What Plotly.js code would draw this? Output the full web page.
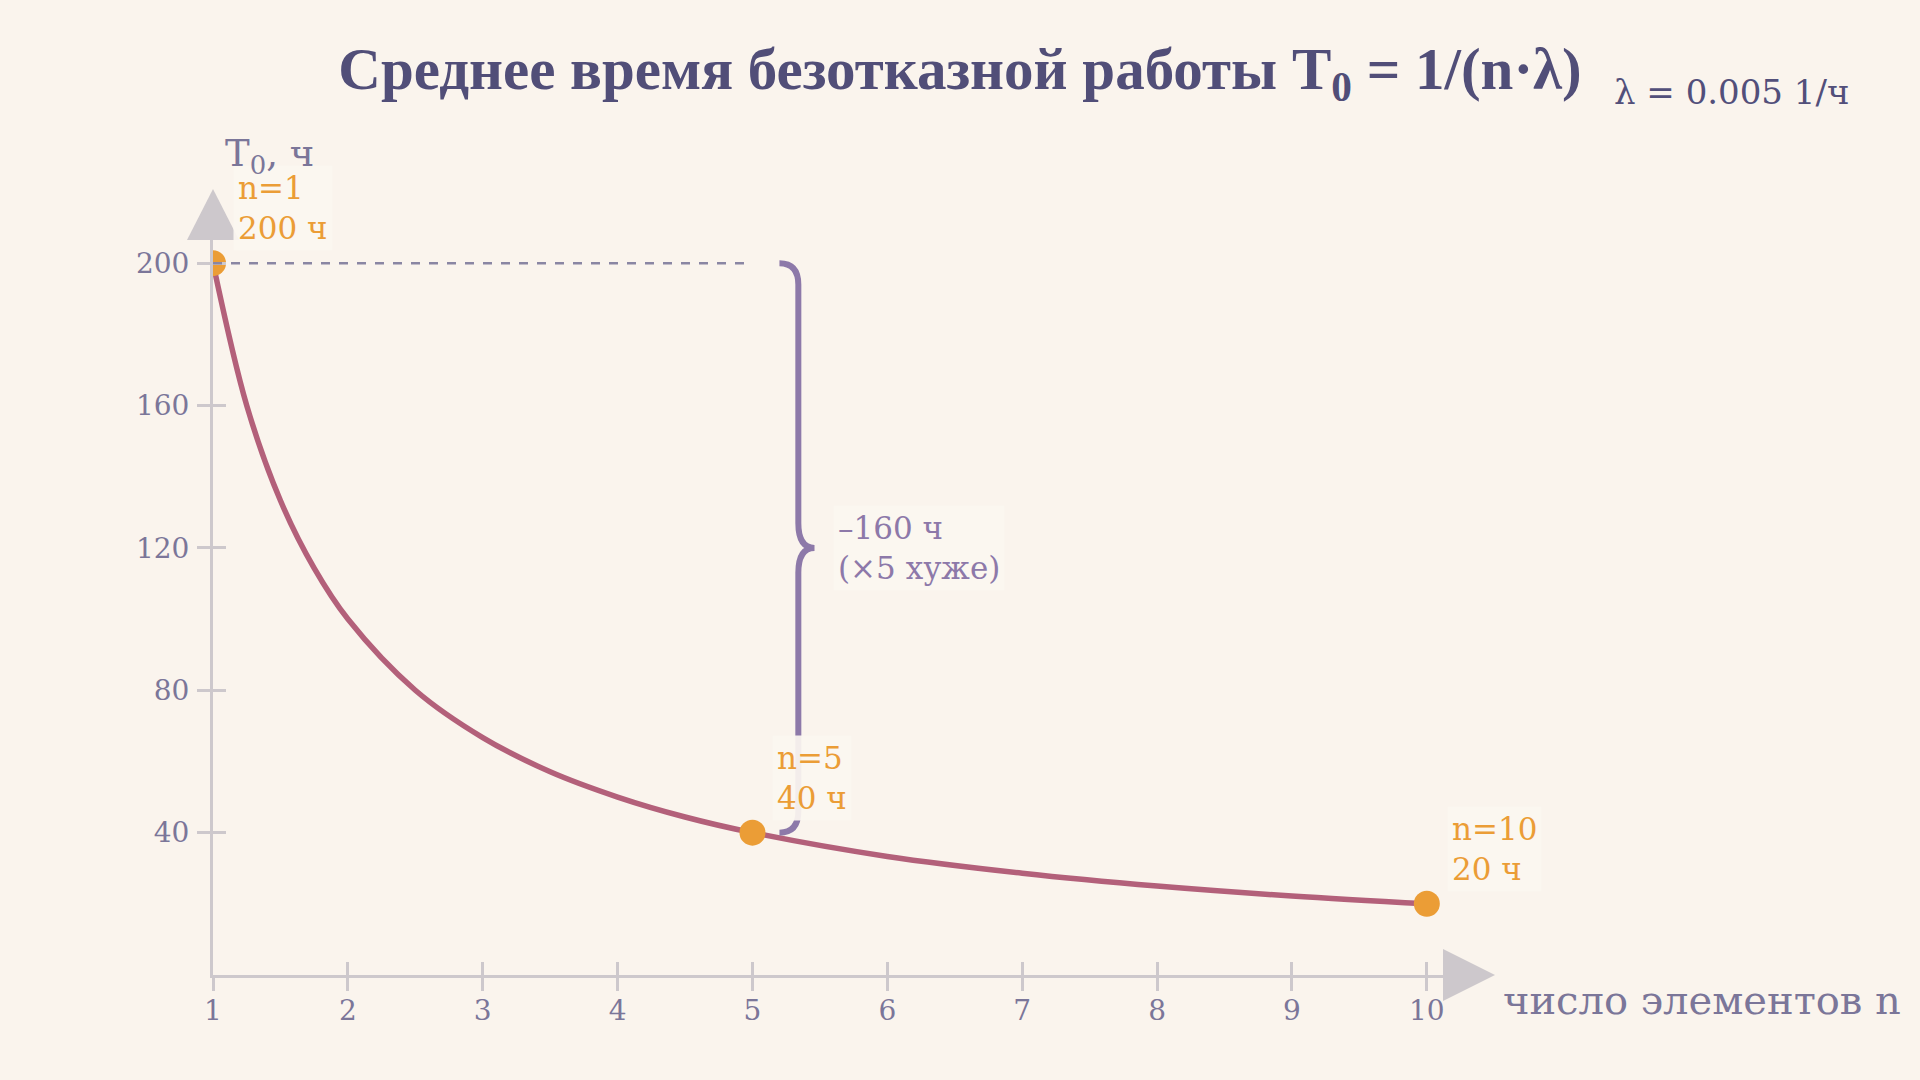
<!DOCTYPE html>
<html>
<head>
<meta charset="utf-8">
<script src="https://cdn.plot.ly/plotly-3.0.1.min.js"></script>
<style>
  html, body { margin: 0; padding: 0; background: #faf4ed; }
  #chart { width: 1920px; height: 1080px; }
</style>
</head>
<body>
<div id="chart"></div>
<script>
// Среднее время безотказной работы T0 = 1/(n·λ), λ = 0.005 1/ч
const nCurve = [1, 1.25, 1.5, 1.75, 2, 2.5, 3, 3.5, 4, 4.5, 5, 6, 7, 8, 9, 10];
const tCurve = [200, 160, 133.3, 114.3, 100, 80, 66.7, 57.1, 50, 44.4, 40, 33.3, 28.6, 25, 22.2, 20];

const nPoints = [1, 5, 10];
const tPoints = [200, 40, 20];
const pointLabels = ['n=1<br>200 ч', 'n=5<br>40 ч', 'n=10<br>20 ч'];

const xTicks = [1, 2, 3, 4, 5, 6, 7, 8, 9, 10];
const yTicks = [40, 80, 120, 160, 200];

const diffLabel = '–160 ч<br>(×5 хуже)';

const SERIF = '"DejaVu Serif", "Liberation Serif", serif';
const TEXT = '#7b7699';
const AXIS = '#cdc8cc';
const ORANGE = '#eb9d36';
const PURPLE = '#8d79a9';
const LABEL_BG = 'rgba(251,246,240,0.93)';

const xMax = 10.12, yMax = 206.5;

const traces = [
  {
    x: nCurve, y: tCurve,
    mode: 'lines',
    line: { color: '#b3607a', width: 5.5, shape: 'spline', smoothing: 1 },
    hoverinfo: 'skip'
  },
  {
    x: nPoints, y: tPoints,
    mode: 'markers',
    marker: { color: ORANGE, size: 26 },
    hoverinfo: 'skip'
  },
  // невидимые трассы для дополнительных осей (внутренние засечки)
  { x: nPoints, y: tPoints, xaxis: 'x2', yaxis: 'y', mode: 'markers',
    marker: { opacity: 0 }, hoverinfo: 'skip' },
  { x: nPoints, y: tPoints, xaxis: 'x', yaxis: 'y2', mode: 'markers',
    marker: { opacity: 0 }, hoverinfo: 'skip' }
];

// подписи точек: привязка к точке, сдвиг вправо-вверх в пикселях
const annotations = pointLabels.map((t, i) => ({
  x: nPoints[i], y: tPoints[i], xref: 'x', yref: 'y',
  text: t, showarrow: false, align: 'left',
  xanchor: 'left', yanchor: 'middle', xshift: 20, yshift: 55,
  font: { family: SERIF, size: 31, color: ORANGE },
  bgcolor: LABEL_BG, borderpad: 4
}));

annotations.push(
  {
    x: 5.6, y: 120, xref: 'x', yref: 'y',
    text: diffLabel, showarrow: false, align: 'left',
    xanchor: 'left', yanchor: 'middle',
    font: { family: SERIF, size: 31, color: PURPLE },
    bgcolor: LABEL_BG, borderpad: 4
  },
  {
    x: 0, y: 1, xref: 'paper', yref: 'paper',
    text: 'T<sub>0</sub>, ч', showarrow: false,
    xanchor: 'left', yanchor: 'bottom', xshift: 10, yshift: 58,
    font: { family: SERIF, size: 37, color: TEXT }
  },
  {
    x: 1, y: 0, xref: 'paper', yref: 'paper',
    text: 'число элементов n', showarrow: false,
    xanchor: 'left', yanchor: 'middle', xshift: 58, yshift: -25,
    font: { family: SERIF, size: 40, color: TEXT }
  },
  {
    x: (1612 - 213) / 1230, y: (975 - 92) / 735, xref: 'paper', yref: 'paper',
    text: 'λ = 0.005 1/ч', showarrow: false,
    xanchor: 'left', yanchor: 'middle',
    font: { family: SERIF, size: 34, color: '#524f7a' }
  }
);

const shapes = [
  // пунктир от n=1 до n=5 на уровне 200 ч
  {
    type: 'line', xref: 'x', yref: 'y', layer: 'above',
    x0: nPoints[0], x1: nPoints[1], y0: tPoints[0], y1: tPoints[0],
    line: { color: '#8a86a3', width: 2.5, dash: 'dash' }
  },
  // фигурная скобка между 200 и 40
  {
    type: 'path', xref: 'x', yref: 'y', layer: 'above',
    path: 'M 5.20,200 Q 5.34,200 5.34,194 L 5.34,127 Q 5.34,120 5.46,120 ' +
          'Q 5.34,120 5.34,113 L 5.34,46 Q 5.34,40 5.20,40',
    line: { color: PURPLE, width: 6 }
  },
  // стрелки осей
  {
    type: 'path', xref: 'paper', yref: 'paper', xsizemode: 'pixel', ysizemode: 'pixel',
    xanchor: 0, yanchor: 1, layer: 'below',
    path: 'M -26,0 L 26,0 L 0,51 Z',
    fillcolor: AXIS, line: { width: 0 }
  },
  {
    type: 'path', xref: 'paper', yref: 'paper', xsizemode: 'pixel', ysizemode: 'pixel',
    xanchor: 1, yanchor: 0, layer: 'below',
    path: 'M 0,-26 L 52,0 L 0,26 Z',
    fillcolor: AXIS, line: { width: 0 }
  }
];

const layout = {
  width: 1920, height: 1080,
  paper_bgcolor: '#faf4ed',
  plot_bgcolor: 'rgba(0,0,0,0)',
  margin: { l: 213, r: 477, t: 240, b: 105 },
  showlegend: false,
  title: {
    text: '<b>Среднее время безотказной работы T<sub>0</sub> = 1/(n·λ)</b>',
    x: 0.5, xanchor: 'center', y: 1 - 68 / 1080, yref: 'container', yanchor: 'middle',
    font: { family: '"Liberation Serif", serif', size: 59, color: '#514e78' }
  },
  xaxis: {
    range: [1, xMax], tickvals: xTicks, ticktext: xTicks.map(String),
    showgrid: false, zeroline: false,
    showline: true, linecolor: AXIS, linewidth: 3,
    ticks: 'outside', ticklen: 13, tickwidth: 3, tickcolor: AXIS,
    tickfont: { family: SERIF, size: 28, color: TEXT },
    ticklabelstandoff: -5
  },
  xaxis2: {
    overlaying: 'x', anchor: 'y', side: 'bottom', matches: 'x',
    range: [1, xMax], tickvals: xTicks,
    showgrid: false, zeroline: false, showline: false,
    showticklabels: false,
    ticks: 'inside', ticklen: 13, tickwidth: 3, tickcolor: AXIS
  },
  yaxis: {
    range: [0, yMax], tickvals: yTicks, ticktext: yTicks.map(String),
    showgrid: false, zeroline: false,
    showline: true, linecolor: AXIS, linewidth: 3,
    ticks: 'outside', ticklen: 13, tickwidth: 3, tickcolor: AXIS,
    tickfont: { family: SERIF, size: 28, color: TEXT },
    ticklabelstandoff: 2
  },
  yaxis2: {
    overlaying: 'y', anchor: 'x', side: 'left', matches: 'y',
    range: [0, yMax], tickvals: yTicks,
    showgrid: false, zeroline: false, showline: false,
    showticklabels: false,
    ticks: 'inside', ticklen: 13, tickwidth: 3, tickcolor: AXIS
  },
  shapes: shapes,
  annotations: annotations
};

Plotly.newPlot('chart', traces, layout, { displayModeBar: false, staticPlot: true });
</script>
</body>
</html>
